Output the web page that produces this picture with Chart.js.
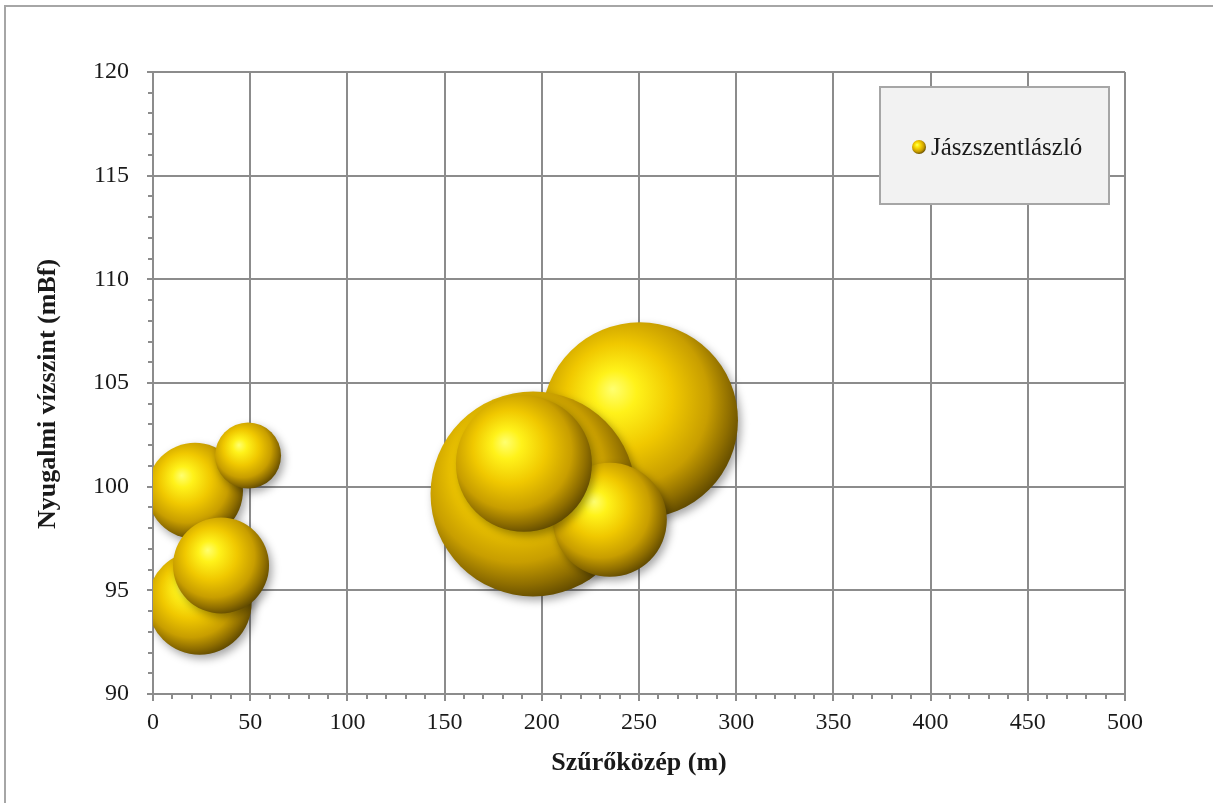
<!DOCTYPE html>
<html>
<head>
<meta charset="utf-8">
<title>Jászszentlászló – nyugalmi vízszint</title>
<script src="https://cdn.jsdelivr.net/npm/chart.js@4/dist/chart.umd.min.js"></script>
<style>
  html, body { margin: 0; padding: 0; background: #ffffff; }
  #wrap { width: 1213px; height: 803px; position: relative; }
</style>
</head>
<body>
<div id="wrap"><canvas id="chart" width="1213" height="803"></canvas></div>
<script>
// Wells: screen centre depth (m), static water level (mBf), bubble radius
const seriesName = 'Jászszentlászló';
const screenDepth = [250.5, 195.5, 235, 190.8, 24, 21.6, 35, 48.9];
const waterLevel  = [103.2, 99.65, 98.4, 101.1, 94.4, 99.8, 96.2, 101.5];
const bubbleSize  = [98, 102.5, 57, 68, 52, 48, 48, 33];

const xTickValues = [0, 50, 100, 150, 200, 250, 300, 350, 400, 450, 500];
const yTickValues = [90, 95, 100, 105, 110, 115, 120];

const xTitle = 'Szűrőközép (m)';
const yTitle = 'Nyugalmi vízszint (mBf)';

const points = screenDepth.map((x, i) => ({ x: x, y: waterLevel[i], r: bubbleSize[i] }));

const GRID = '#8c8c8c';
const FONT = "'Liberation Serif', 'DejaVu Serif', serif";

function goldGradient(ctx, cx, cy, r) {
  const g = ctx.createRadialGradient(cx - 0.28 * r, cy - 0.32 * r, 0,
                                     cx - 0.12 * r, cy - 0.15 * r, 1.2 * r);
  g.addColorStop(0.00, '#ffff70');
  g.addColorStop(0.18, '#fff21a');
  g.addColorStop(0.45, '#f0c800');
  g.addColorStop(0.72, '#c89e00');
  g.addColorStop(0.88, '#8f6e00');
  g.addColorStop(1.00, '#5e4800');
  return g;
}

// Frame around the whole chart
const framePlugin = {
  id: 'frame',
  beforeDraw(chart) {
    const ctx = chart.ctx;
    ctx.save();
    ctx.strokeStyle = '#a6a6a6';
    ctx.lineWidth = 2;
    ctx.strokeRect(5, 6, 1230, 820);
    ctx.restore();
  }
};

// Minor tick marks on both axes, plus the vertical axis title
const axisExtrasPlugin = {
  id: 'axisExtras',
  afterDraw(chart) {
    const ctx = chart.ctx;
    const xs = chart.scales.x, ys = chart.scales.y;
    const area = chart.chartArea;
    ctx.save();
    ctx.strokeStyle = GRID;
    ctx.lineWidth = 2;
    ctx.beginPath();
    for (let v = 90; v <= 120; v += 1) {
      if (v % 5 === 0) continue;
      const py = Math.round(ys.getPixelForValue(v));
      ctx.moveTo(area.left - 5, py);
      ctx.lineTo(area.left, py);
    }
    for (let v = 0; v <= 500; v += 10) {
      if (v % 50 === 0) continue;
      const px = Math.round(xs.getPixelForValue(v));
      ctx.moveTo(px, area.bottom);
      ctx.lineTo(px, area.bottom + 5);
    }
    ctx.stroke();

    ctx.translate(48, (area.top + area.bottom) / 2 + 11);
    ctx.rotate(-Math.PI / 2);
    ctx.fillStyle = '#1a1a1a';
    ctx.font = 'bold 26px ' + FONT;
    ctx.textAlign = 'center';
    ctx.textBaseline = 'middle';
    ctx.fillText(yTitle, 0, 0);
    ctx.restore();
  }
};

// Shadow under the bubbles
const shadowPlugin = {
  id: 'bubbleShadow',
  beforeDatasetDraw(chart) {
    const ctx = chart.ctx;
    ctx.save();
    ctx.shadowColor = 'rgba(0,0,0,0.35)';
    ctx.shadowBlur = 8;
    ctx.shadowOffsetX = 3;
    ctx.shadowOffsetY = 4;
  },
  afterDatasetDraw(chart) {
    chart.ctx.restore();
  }
};

// Legend box with a sphere marker
const legendPlugin = {
  id: 'sphereLegend',
  afterDraw(chart) {
    const ctx = chart.ctx;
    ctx.save();
    ctx.fillStyle = '#f2f2f2';
    ctx.fillRect(880, 87, 229, 117);
    ctx.strokeStyle = '#a6a6a6';
    ctx.lineWidth = 2;
    ctx.strokeRect(880, 87, 229, 117);
    const cx = 919, cy = 147, r = 7;
    ctx.fillStyle = goldGradient(ctx, cx, cy, r);
    ctx.beginPath();
    ctx.arc(cx, cy, r, 0, Math.PI * 2);
    ctx.fill();
    ctx.fillStyle = '#1a1a1a';
    ctx.font = '25px ' + FONT;
    ctx.textBaseline = 'middle';
    ctx.textAlign = 'left';
    ctx.fillText(chart.data.datasets[0].label, 931, 148);
    ctx.restore();
  }
};

new Chart(document.getElementById('chart'), {
  type: 'bubble',
  data: {
    datasets: [{
      label: seriesName,
      data: points,
      clip: 0,
      borderWidth: 0,
      borderColor: 'rgba(0,0,0,0)',
      hoverRadius: 0,
      backgroundColor(c) {
        if (c.type !== 'data' || !c.raw) return '#f0c800';
        const ch = c.chart;
        const xs = ch.scales.x, ys = ch.scales.y;
        if (!xs || !ys) return '#f0c800';
        const px = xs.getPixelForValue(c.raw.x);
        const py = ys.getPixelForValue(c.raw.y);
        if (!isFinite(px) || !isFinite(py)) return '#f0c800';
        return goldGradient(ch.ctx, px, py, c.raw.r);
      }
    }]
  },
  options: {
    responsive: false,
    animation: false,
    events: [],
    layout: { autoPadding: false, padding: { left: 0, top: 72, right: 88, bottom: 0 } },
    plugins: {
      legend: { display: false },
      tooltip: { enabled: false }
    },
    scales: {
      x: {
        type: 'linear',
        min: 0, max: 500,
        afterBuildTicks(s) { s.ticks = xTickValues.map(v => ({ value: v })); },
        afterFit(s) { s.height = 109; },
        grid: { color: GRID, lineWidth: 2, tickLength: 7, tickColor: GRID },
        border: { color: GRID, width: 2 },
        ticks: { color: '#1a1a1a', font: { family: FONT, size: 24 }, padding: 7, maxRotation: 0 },
        title: { display: true, text: xTitle, color: '#1a1a1a',
                 font: { family: FONT, size: 26, weight: 'bold' }, padding: { top: 24, bottom: 24 } }
      },
      y: {
        type: 'linear',
        min: 90, max: 120,
        afterBuildTicks(s) { s.ticks = yTickValues.map(v => ({ value: v })); },
        afterFit(s) { s.width = 153; },
        grid: { color: GRID, lineWidth: 2, tickLength: 6, tickColor: GRID },
        border: { color: GRID, width: 2 },
        ticks: { color: '#1a1a1a', font: { family: FONT, size: 24 }, padding: 18 },
        title: { display: false, text: yTitle }
      }
    }
  },
  plugins: [framePlugin, shadowPlugin, axisExtrasPlugin, legendPlugin]
});
</script>
</body>
</html>
